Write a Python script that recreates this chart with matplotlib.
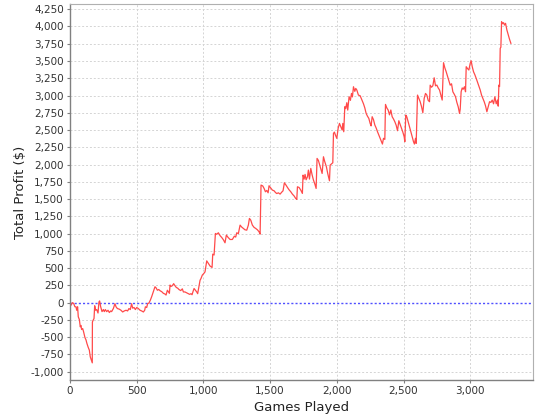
import matplotlib
matplotlib.use("Agg")
import matplotlib.pyplot as plt
from matplotlib.ticker import MultipleLocator, FuncFormatter


# DATA
games = [
    0, 7, 17, 27, 37, 45, 50, 57, 62, 70, 77, 82, 87, 95, 102, 112, 120,
    127, 137, 145, 152, 162, 167, 168, 172, 180, 185, 192, 200, 210, 217,
    222, 230, 240, 250, 257, 265, 275, 285, 295, 305, 312, 325, 337, 345,
    355, 370, 382, 395, 407, 420, 432, 442, 452, 462, 470, 480, 490, 500,
    512, 525, 537, 550, 560, 565, 575, 582, 592, 602, 612, 620, 627, 637,
    645, 655, 665, 677, 687, 700, 712, 720, 730, 737, 745, 750, 757, 767,
    777, 787, 797, 807, 817, 830, 842, 850, 862, 877, 887, 897, 907, 915,
    922, 930, 940, 950, 957, 967, 975, 982, 992, 1002, 1012, 1025, 1037,
    1050, 1065, 1070, 1080, 1090, 1100, 1112, 1125, 1137, 1150, 1162,
    1172, 1185, 1200, 1217, 1232, 1242, 1250, 1262, 1275, 1287, 1300,
    1312, 1325, 1337, 1345, 1355, 1367, 1380, 1392, 1405, 1417, 1425,
    1432, 1445, 1455, 1465, 1475, 1485, 1492, 1505, 1517, 1530, 1540,
    1550, 1562, 1575, 1587, 1597, 1607, 1620, 1630, 1642, 1655, 1667,
    1680, 1692, 1700, 1705, 1717, 1730, 1742, 1747, 1755, 1762, 1770,
    1780, 1787, 1795, 1805, 1815, 1825, 1835, 1845, 1852, 1862, 1872,
    1882, 1890, 1900, 1910, 1922, 1932, 1945, 1950, 1960, 1970, 1975,
    1982, 1990, 2000, 2010, 2020, 2030, 2040, 2045, 2052, 2060, 2067,
    2075, 2082, 2092, 2102, 2110, 2117, 2125, 2135, 2142, 2150, 2162,
    2175, 2187, 2200, 2210, 2220, 2230, 2240, 2250, 2257, 2265, 2275,
    2285, 2295, 2305, 2315, 2325, 2335, 2342, 2350, 2360, 2365, 2375,
    2385, 2395, 2405, 2415, 2425, 2435, 2445, 2455, 2465, 2475, 2485,
    2495, 2505, 2510, 2517, 2525, 2535, 2545, 2555, 2565, 2575, 2582,
    2590, 2595, 2605, 2615, 2625, 2635, 2645, 2655, 2665, 2675, 2685,
    2695, 2700, 2710, 2720, 2730, 2740, 2750, 2760, 2770, 2780, 2790,
    2800, 2810, 2820, 2830, 2840, 2850, 2860, 2870, 2880, 2890, 2900,
    2910, 2920, 2925, 2932, 2940, 2947, 2957, 2965, 2970, 2980, 2990,
    3000, 3007, 3015, 3025, 3035, 3045, 3055, 3065, 3075, 3085, 3095,
    3105, 3115, 3125, 3135, 3145, 3155, 3165, 3175, 3185, 3195, 3205,
    3210, 3215, 3220, 3225, 3230, 3235, 3242, 3250, 3257, 3265, 3275,
    3285, 3295, 3305,
]

profit = [
    0, -39, 0, -10, -60, -60, -110, -60, -205, -244, -350, -330, -389,
    -375, -423, -505, -540, -592, -650, -688, -785, -843, -872, -280,
    -260, -230, -45, -110, -100, -150, 10, 25, -60, -130, -100, -130,
    -100, -130, -110, -143, -120, -130, -85, -15, -60, -85, -95, -110,
    -135, -120, -110, -120, -85, -100, -15, -80, -70, -100, -70, -85,
    -110, -120, -135, -110, -60, -70, -15, -5, 35, 85, 130, 165, 230,
    215, 180, 190, 170, 160, 135, 125, 110, 180, 160, 135, 255, 235,
    245, 275, 245, 220, 210, 190, 175, 200, 155, 155, 140, 130, 120, 130,
    115, 160, 205, 180, 155, 130, 240, 325, 350, 400, 420, 445, 605, 570,
    530, 510, 703, 690, 1002, 990, 1012, 970, 945, 910, 867, 979, 945,
    915, 915, 963, 950, 1012, 1000, 1123, 1095, 1075, 1055, 1050, 1123,
    1220, 1195, 1123, 1090, 1075, 1055, 1027, 992, 1703, 1690, 1654,
    1606, 1625, 1591, 1693, 1660, 1630, 1620, 1596, 1580, 1591, 1572,
    1600, 1620, 1736, 1700, 1669, 1635, 1606, 1572, 1545, 1509, 1495,
    1678, 1668, 1630, 1582, 1847, 1790, 1857, 1780, 1823, 1920, 1790,
    1944, 1850, 1775, 1720, 1654, 2089, 2060, 1992, 1920, 1871, 2113,
    2040, 1968, 1870, 1765, 1992, 2010, 2026, 2451, 2470, 2426, 2379,
    2524, 2596, 2550, 2500, 2596, 2475, 2838, 2810, 2896, 2789, 2983,
    2930, 3030, 2980, 3127, 3060, 3103, 3080, 3006, 2997, 2940, 2880,
    2820, 2740, 2700, 2669, 2596, 2560, 2693, 2650, 2573, 2530, 2476,
    2427, 2380, 2331, 2297, 2380, 2364, 2871, 2820, 2789, 2720, 2790,
    2693, 2660, 2620, 2570, 2490, 2635, 2580, 2524, 2470, 2403, 2331,
    2717, 2690, 2620, 2550, 2476, 2403, 2331, 2297, 2380, 2307, 3006,
    2960, 2910, 2840, 2750, 2958, 3030, 3006, 2930, 2910, 3150, 3120,
    3141, 3257, 3140, 3151, 3110, 3080, 3006, 2934, 3475, 3400, 3344,
    3280, 3214, 3150, 3170, 3054, 3020, 2982, 2900, 2837, 2740, 2800,
    3054, 3110, 3090, 3127, 3054, 3417, 3390, 3369, 3465, 3504, 3420,
    3344, 3300, 3248, 3190, 3136, 3080, 3006, 2960, 2910, 2850, 2765,
    2840, 2910, 2900, 2934, 2880, 2982, 2880, 2934, 2846, 3151, 3130,
    3683, 3700, 4069, 4040, 4055, 4020, 4045, 3949, 3880, 3813, 3756,
]

x_ticks = [0, 500, 1000, 1500, 2000, 2500, 3000]
y_ticks = [-1000, -750, -500, -250, 0, 250, 500, 750, 1000, 1250, 1500,
           1750, 2000, 2250, 2500, 2750, 3000, 3250, 3500, 3750, 4000, 4250]


plt.rcParams["font.family"] = ["DejaVu Sans"]

fig = plt.figure(figsize=(5.4, 4.2), dpi=100)
ax = fig.add_axes([70 / 540, 1 - 379.5 / 420, 462.5 / 540, 375.2 / 420])

# grid (zero line gets its own marker)
for gx in x_ticks:
    ax.axvline(gx, color="#d4d4d4", lw=0.7, dashes=(2, 2), zorder=0)
for gy in y_ticks:
    if gy != 0:
        ax.axhline(gy, color="#d4d4d4", lw=0.7, dashes=(2, 2), zorder=0)

# zero marker
ax.axhline(0, color="#5050ff", lw=1.0, dashes=(1.5, 1.5), zorder=1)

ax.plot(games, profit, color="#ff4a4a", lw=0.9, zorder=2)

ax.set_xlim(0, 3467)
ax.set_ylim(-1113, 4321)
ax.xaxis.set_major_locator(MultipleLocator(500))
ax.set_yticks(y_ticks)
fmt = FuncFormatter(lambda v, p: f"{int(v):,}")
ax.xaxis.set_major_formatter(fmt)
ax.yaxis.set_major_formatter(fmt)

for side in ["top", "right"]:
    ax.spines[side].set_color("#b0b0b0")
    ax.spines[side].set_linewidth(0.8)
for side in ["left", "bottom"]:
    ax.spines[side].set_color("#808080")
    ax.spines[side].set_linewidth(1.0)

ax.tick_params(axis="both", length=2.5, width=0.8, color="#808080",
               labelsize=7.5, labelcolor="#333333", pad=2)

ax.set_xlabel("Games Played", fontsize=9.5, color="#222222", labelpad=4)
ax.set_ylabel("Total Profit ($)", fontsize=9.5, color="#222222")
ax.yaxis.set_label_coords(-0.094, 0.5)

fig.savefig("out.png", dpi=100)
